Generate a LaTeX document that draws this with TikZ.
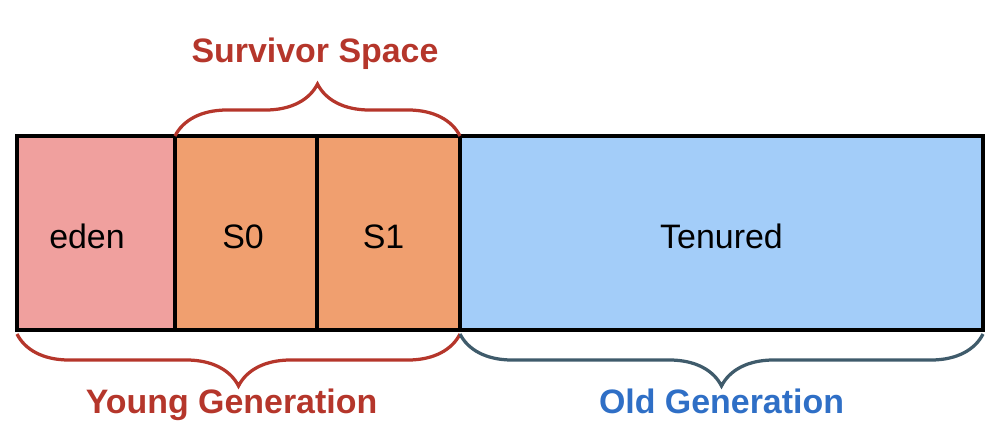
\documentclass[tikz,border=0pt]{standalone}
\usepackage{fontspec}
\setmainfont{Liberation Sans}
\usepackage{xcolor}
\usepackage{tikz}
\usetikzlibrary{positioning, calc, decorations.pathreplacing}

\definecolor{edenfill}{HTML}{F0A09E}
\definecolor{survfill}{HTML}{F09F6F}
\definecolor{tenfill}{HTML}{A3CDF9}
\definecolor{youngred}{HTML}{B5362B}
\definecolor{oldblue}{HTML}{2F6FC6}
\definecolor{oldslate}{HTML}{3F5B6B}

\begin{document}
\begin{tikzpicture}[
      region/.style={rectangle, draw, line width=0.09cm, outer sep=0pt, inner sep=0pt,
                     minimum height=3.88cm, text height=0.6cm, text depth=0cm,
                     font=\fontsize{19.3}{23}\selectfont},
      genlabel/.style={anchor=base, font=\fontsize{19.3}{23}\selectfont\bfseries},
      brace/.style={decorate, decoration={brace, amplitude=1.04cm}, line width=0.065cm},
      lowbrace/.style={decorate, decoration={brace, amplitude=1.04cm, raise=0.08cm}, line width=0.065cm}
    ]
    \useasboundingbox (0,0) rectangle (19.72,-8.92);

    % Heap regions
    \node[region, fill=edenfill, minimum width=3.16cm, anchor=north west] (eden) at (0.34,-2.72) {eden\kern0.36cm};
    \node[region, fill=survfill, minimum width=2.84cm, right=0pt of eden] (S0)  {S0\kern0.12cm};
    \node[region, fill=survfill, minimum width=2.86cm, right=0pt of S0]   (S1)  {S1\kern0.2cm};
    \node[region, fill=tenfill,  minimum width=10.46cm, right=0pt of S1]  (ten) {Tenured};

    % Survivor space brace
    \draw[brace, youngred] (S0.north west) -- (S1.north east);
    \node[genlabel, text=youngred] (surv) at ($(S0.north west)!0.5!(S1.north east)+(-0.05,1.48)$) {Survivor Space};

    % Young and old generation braces
    \draw[lowbrace, youngred] (S1.south east) -- (eden.south west);
    \node[genlabel, text=youngred] (young) at ($(eden.south west)!0.5!(S1.south east)+(-0.14,-1.66)$) {Young Generation};

    \draw[lowbrace, oldslate] (ten.south east) -- (ten.south west);
    \node[genlabel, text=oldblue] (old) at ($(ten.south west)!0.5!(ten.south east)+(0,-1.66)$) {Old Generation};

  \end{tikzpicture}
\end{document}
